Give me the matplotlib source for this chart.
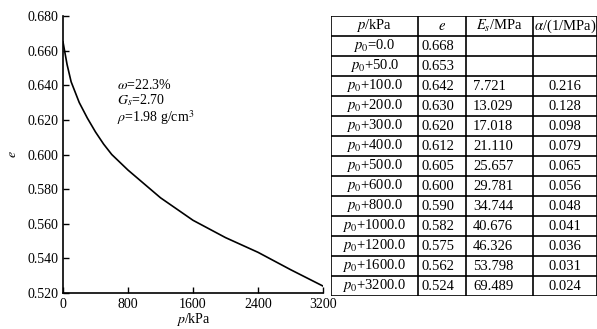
import numpy as np
import matplotlib
matplotlib.use('Agg')
import matplotlib.pyplot as plt

plt.rcParams['font.family'] = ['Liberation Serif', 'DejaVu Serif']
plt.rcParams['mathtext.fontset'] = 'stix'

# 数据 (表格)
p_kpa = [0, 50, 100, 200, 300, 400, 500, 600, 800, 1000, 1200, 1600, 3200]
p_labels = ['$p_0$=0.0', '$p_0$+50.0', '$p_0$+100.0', '$p_0$+200.0', '$p_0$+300.0',
            '$p_0$+400.0', '$p_0$+500.0', '$p_0$+600.0', '$p_0$+800.0', '$p_0$+1000.0',
            '$p_0$+1200.0', '$p_0$+1600.0', '$p_0$+3200.0']
e_vals = [0.668, 0.653, 0.642, 0.630, 0.620, 0.612, 0.605, 0.600, 0.590, 0.582,
          0.575, 0.562, 0.524]
es_vals = ['', '', '7.721', '13.029', '17.018', '21.110', '25.657', '29.781',
           '34.744', '40.676', '46.326', '53.798', '69.489']
alpha_vals = ['', '', '0.216', '0.128', '0.098', '0.079', '0.065', '0.056',
              '0.048', '0.041', '0.036', '0.031', '0.024']
headers = ['$p$/kPa', '$e$', '$E_s$/MPa', r'$\alpha$/(1/MPa)']

# 曲线
curve_p = [0, 50, 100, 200, 300, 400, 500, 600, 800, 1000, 1200, 1600,
           2000, 2400, 2800, 3200]
curve_e = [0.665, 0.652, 0.642, 0.630, 0.621, 0.613, 0.606, 0.600, 0.591, 0.583,
           0.575, 0.562, 0.552, 0.5435, 0.5335, 0.524]

x_ticks = [0, 800, 1600, 2400, 3200]
y_ticks = [0.520, 0.540, 0.560, 0.580, 0.600, 0.620, 0.640, 0.660, 0.680]

W, H = 597, 329
fig = plt.figure(figsize=(W / 100, H / 100), dpi=100)

# 左图: e-p 曲线
ax = fig.add_axes([63 / W, 1 - 293 / H, 260 / W, 277 / H])
ax.plot(curve_p, curve_e, color='black', linewidth=1.2)
ax.set_xlim(0, 3200)
ax.set_ylim(0.520, 0.680)
ax.set_xticks(x_ticks)
ax.set_yticks(y_ticks)
ax.set_yticklabels([f'{v:.3f}' for v in y_ticks])
ax.tick_params(direction='in', length=4, labelsize=10, width=1)
for s in ['top', 'right']:
    ax.spines[s].set_visible(False)
for s in ['left', 'bottom']:
    ax.spines[s].set_linewidth(1.2)
ax.set_xlabel('$p$/kPa', fontsize=10, labelpad=0)
ax.set_ylabel('$e$', fontsize=10, labelpad=6)
ax.text(665, 0.630, r'$\omega$=22.3%' + '\n' + '$G_s$=2.70' + '\n' + r'$\rho$=1.98 g/cm$^3$',
        fontsize=10, va='center', ha='left', linespacing=1.0)

# 右侧: 数据表
tx0, tx1 = 331, 598
ty0, ty1 = 16, 296
tax = fig.add_axes([tx0 / W, 1 - ty1 / H, (tx1 - tx0) / W, (ty1 - ty0) / H])
tax.set_xlim(tx0, tx1)
tax.set_ylim(ty1, ty0)
tax.axis('off')
col_edges = [331, 418, 466, 533, 597]
n_rows = len(p_labels) + 1
row_h = (ty1 - ty0) / n_rows
for i in range(n_rows + 1):
    tax.plot([col_edges[0], col_edges[-1]], [ty0 + i * row_h] * 2, color='black', lw=1.2)
for x in col_edges:
    tax.plot([x, x], [ty0, ty1], color='black', lw=1.2)

rows = [headers] + [[p_labels[i], f'{e_vals[i]:.3f}', es_vals[i], alpha_vals[i]]
                    for i in range(len(p_labels))]
for i, row in enumerate(rows):
    yc = ty0 + (i + 0.5) * row_h
    for j, txt in enumerate(row):
        xc = (col_edges[j] + col_edges[j + 1]) / 2
        ha = 'center'
        if i > 0 and j == 1:
            xc = col_edges[j] + 3
            ha = 'left'
        elif i > 0 and j == 2:
            xc = col_edges[j] + 7
            ha = 'left'
        tax.text(xc, yc, txt, ha=ha, va='center', fontsize=10.5)

fig.savefig('out.png', dpi=100)
